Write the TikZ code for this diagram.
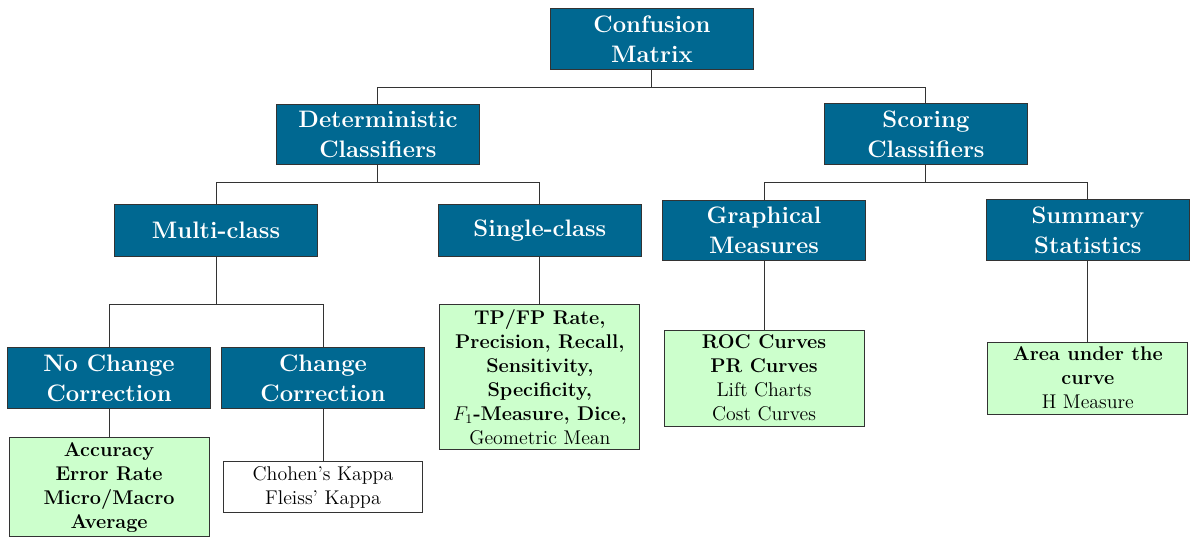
\documentclass[tikz,border=0pt,12pt]{standalone}
\usepackage{amsmath}
\usepackage{tikz}
\usetikzlibrary{positioning}

\definecolor{headblue}{RGB}{0,104,145}
\definecolor{leafgreen}{RGB}{204,255,204}

\begin{document}
\begin{tikzpicture}[on grid,line width=0.6pt,
		class node/.style={rectangle,draw=black!80,fill=headblue,text=white,font=\large\bfseries,align=center,minimum width=122.6pt,minimum height=31.4pt,inner xsep=2pt,inner ysep=4.1pt},
		measure node/.style={rectangle,draw=black!80,fill=leafgreen,align=center,minimum width=120.8pt,inner sep=3pt},
		plain node/.style={measure node,fill=white}]
		
		\useasboundingbox (-393.8pt,23.6pt) rectangle (327.4pt,-305pt);
		
		\node[class node](cm){Confusion\\Matrix};
		\node[class node](dc)[below left=57.4pt and 165.5pt of cm]{Deterministic\\Classifiers};
		\node[class node](sc)[below right=57.4pt and 165.5pt of cm]{Scoring\\Classifiers};
		
		\node[class node](mc)[below left=58pt and 97.8pt of dc]{Multi-class};
		\node[class node](scl)[below right=58pt and 97.8pt of dc]{Single-class};
		\node[class node](gm)[below left=58pt and 97.8pt of sc]{Graphical\\Measures};
		\node[class node](ss)[below right=58pt and 97.8pt of sc]{Summary\\Statistics};
		
		\node[class node](ncc)[below left=89.4pt and 64.6pt of mc]{No Change\\Correction};
		\node[class node](cc)[below right=89.4pt and 64.6pt of mc]{Change\\Correction};
		
		\node[measure node](acc)[below=65.8pt of ncc]{\textbf{Accuracy}\\\textbf{Error Rate}\\\textbf{Micro/Macro}\\\textbf{Average}};
		\node[plain node](kap)[below=65.8pt of cc]{Chohen's Kappa\\Fleiss' Kappa};
		\node[measure node](rate)[below=88.8pt of scl]{\textbf{TP/FP Rate,}\\\textbf{Precision, Recall,}\\\textbf{Sensitivity,}\\\textbf{Specificity,}\\$F_1$\textbf{-Measure, Dice,}\\Geometric Mean};
		\node[measure node](curves)[below=89.4pt of gm]{\textbf{ROC Curves}\\\textbf{PR Curves}\\Lift Charts\\Cost Curves};
		\node[measure node](auc)[below=89.4pt of ss]{\textbf{Area under the}\\\textbf{curve}\\H Measure};
		
		\path[draw=black!80]
		(cm.south) -- ++(0,-10.9pt) -| (dc.north)
		(cm.south) -- ++(0,-10.9pt) -| (sc.north)
		(dc.south) -- ++(0,-10.9pt) -| (mc.north)
		(dc.south) -- ++(0,-10.9pt) -| (scl.north)
		(sc.south) -- ++(0,-10.9pt) -| (gm.north)
		(sc.south) -- ++(0,-10.9pt) -| (ss.north)
		(mc.south) -- ++(0,-29pt) -| (ncc.north)
		(mc.south) -- ++(0,-29pt) -| (cc.north)
		(ncc.south) -- (acc.north)
		(cc.south) -- (kap.north)
		(scl.south) -- (rate.north)
		(gm.south) -- (curves.north)
		(ss.south) -- (auc.north);
		
	\end{tikzpicture}
\end{document}
